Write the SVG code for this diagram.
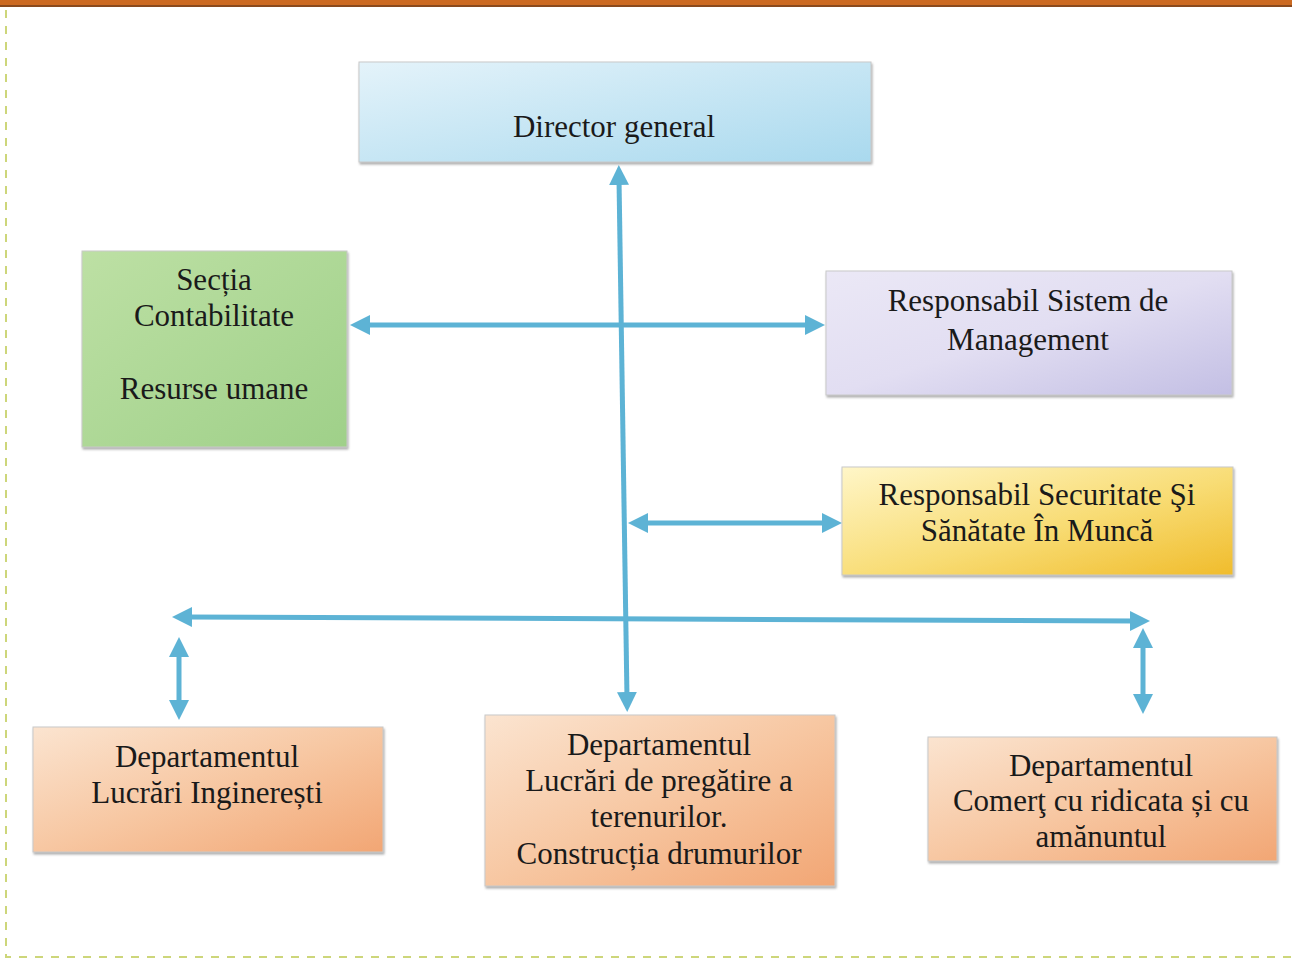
<svg xmlns="http://www.w3.org/2000/svg" width="1292" height="959" viewBox="0 0 1292 959">
<style>
.t{font-family:"Liberation Serif","Times New Roman",serif;font-size:31px;fill:#1a1a1a;text-anchor:middle}
.box{stroke:#c9c9c9;stroke-width:1}
.c{fill:none;stroke:#5db3d5;stroke-width:5;marker-start:url(#ah);marker-end:url(#ah)}
</style>
<defs>
<marker id="ah" viewBox="0 0 20 20" refX="6" refY="10" markerWidth="20" markerHeight="20" markerUnits="userSpaceOnUse" orient="auto-start-reverse">
<path d="M0,0 L20,10 L0,20 Z" fill="#5db3d5"/>
</marker>
<linearGradient id="gBlue" x1="0" y1="0" x2="1" y2="1">
<stop offset="0" stop-color="#e4f3fa"/><stop offset="1" stop-color="#a9d9ee"/>
</linearGradient>
<linearGradient id="gGreen" x1="0" y1="0" x2="1" y2="1">
<stop offset="0" stop-color="#bde0a4"/><stop offset="1" stop-color="#9fd089"/>
</linearGradient>
<linearGradient id="gLav" x1="0" y1="0" x2="1" y2="1">
<stop offset="0" stop-color="#ebe8f6"/><stop offset="0.5" stop-color="#e2def2"/><stop offset="1" stop-color="#c3bfe4"/>
</linearGradient>
<linearGradient id="gYel" x1="0" y1="0" x2="1" y2="1">
<stop offset="0" stop-color="#fff6c8"/><stop offset="0.55" stop-color="#f8dc74"/><stop offset="1" stop-color="#f0bc2c"/>
</linearGradient>
<linearGradient id="gPeach" x1="0" y1="0" x2="1" y2="1">
<stop offset="0" stop-color="#fbe4d0"/><stop offset="0.5" stop-color="#f7c7a2"/><stop offset="1" stop-color="#f2a674"/>
</linearGradient>
<filter id="sh" x="-5%" y="-5%" width="110%" height="115%">
<feDropShadow dx="1" dy="2" stdDeviation="1.2" flood-color="#777" flood-opacity="0.6"/>
</filter>
</defs>

<rect x="0" y="0" width="1292" height="959" fill="#ffffff"/>
<rect x="0" y="0" width="1292" height="6" fill="#cc6a22"/>
<rect x="0" y="5" width="1292" height="2" fill="#8a4a1e"/>
<path d="M6,10 V957 H1292" fill="none" stroke="#cdd67a" stroke-width="2" stroke-dasharray="8,8"/>

<g id="connectors">
<line class="c" x1="619" y1="179" x2="627" y2="698"/>
<line class="c" x1="364" y1="325" x2="811" y2="325"/>
<line class="c" x1="642" y1="523" x2="828" y2="523"/>
<line class="c" x1="186" y1="617" x2="1136" y2="621"/>
<line class="c" x1="179" y1="651" x2="179" y2="706"/>
<line class="c" x1="1143" y1="642" x2="1143" y2="700"/>
</g>

<g id="director">
<rect class="box" x="359" y="62" width="512" height="100" fill="url(#gBlue)" filter="url(#sh)"/>
<text class="t" x="614" y="137">Director general</text>
</g>

<g id="sectia">
<rect class="box" x="82" y="251" width="265" height="196" fill="url(#gGreen)" filter="url(#sh)"/>
<text class="t" x="214" y="290">Secția</text>
<text class="t" x="214" y="326">Contabilitate</text>
<text class="t" x="214" y="399">Resurse umane</text>
</g>

<g id="management">
<rect class="box" x="826" y="271" width="406" height="124" fill="url(#gLav)" filter="url(#sh)"/>
<text class="t" x="1028" y="311">Responsabil Sistem de</text>
<text class="t" x="1028" y="350">Management</text>
</g>

<g id="securitate">
<rect class="box" x="842" y="467" width="391" height="108" fill="url(#gYel)" filter="url(#sh)"/>
<text class="t" x="1037" y="505">Responsabil Securitate Şi</text>
<text class="t" x="1037" y="541">Sănătate În Muncă</text>
</g>

<g id="inginerești">
<rect class="box" x="33" y="727" width="350" height="125" fill="url(#gPeach)" filter="url(#sh)"/>
<text class="t" x="207" y="767">Departamentul</text>
<text class="t" x="207" y="803">Lucrări Inginerești</text>
</g>

<g id="terenuri">
<rect class="box" x="485" y="715" width="350" height="171" fill="url(#gPeach)" filter="url(#sh)"/>
<text class="t" x="659" y="755">Departamentul</text>
<text class="t" x="659" y="791">Lucrări de pregătire a</text>
<text class="t" x="659" y="827">terenurilor.</text>
<text class="t" x="659" y="864">Construcția drumurilor</text>
</g>

<g id="comert">
<rect class="box" x="928" y="737" width="349" height="124" fill="url(#gPeach)" filter="url(#sh)"/>
<text class="t" x="1101" y="776">Departamentul</text>
<text class="t" x="1101" y="811">Comerţ cu ridicata și cu</text>
<text class="t" x="1101" y="847">amănuntul</text>
</g>
</svg>
